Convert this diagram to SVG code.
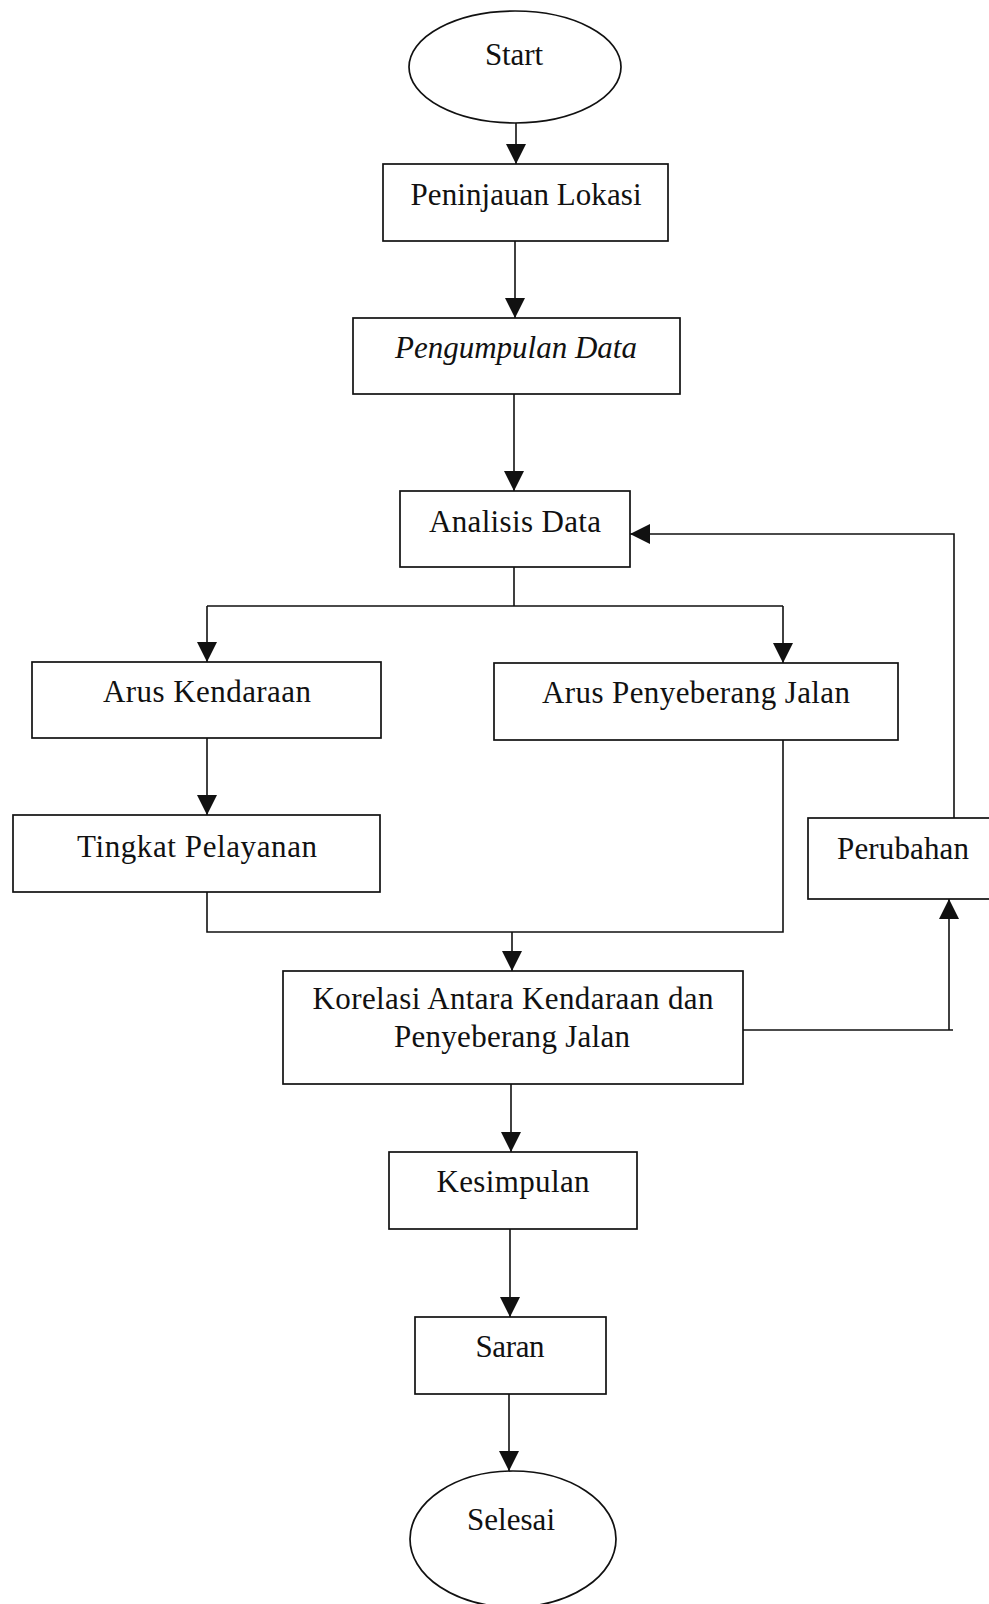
<svg xmlns="http://www.w3.org/2000/svg" width="989" height="1604" viewBox="0 0 989 1604">
<style>
.shape{fill:#fff;stroke:#111;stroke-width:1.7}
.lbl{font-family:"Liberation Serif","Times New Roman",serif;font-size:31px;fill:#111;text-anchor:middle}
.it{font-style:italic}
.conn{fill:none;stroke:#111;stroke-width:1.6}
</style>
<defs>
<marker id="arr" markerUnits="userSpaceOnUse" markerWidth="20" markerHeight="20" refX="20" refY="10" orient="auto">
<path d="M0,0 L20,10 L0,20 z" fill="#111"/>
</marker>
</defs>
<rect width="989" height="1604" fill="#fff"/>
<g id="connectors">
<path class="conn" d="M516,123 V164" marker-end="url(#arr)"/>
<path class="conn" d="M515,241 V318" marker-end="url(#arr)"/>
<path class="conn" d="M514,394 V491" marker-end="url(#arr)"/>
<path class="conn" d="M514,567 V606 M207,606 H783"/>
<path class="conn" d="M207,606 V662" marker-end="url(#arr)"/>
<path class="conn" d="M783,606 V663" marker-end="url(#arr)"/>
<path class="conn" d="M207,738 V815" marker-end="url(#arr)"/>
<path class="conn" d="M207,892 V932 H783 V740"/>
<path class="conn" d="M512,932 V971" marker-end="url(#arr)"/>
<path class="conn" d="M743,1030 H953"/>
<path class="conn" d="M949,1030 V899" marker-end="url(#arr)"/>
<path class="conn" d="M954,818 V534 H630" marker-end="url(#arr)"/>
<path class="conn" d="M511,1084 V1152" marker-end="url(#arr)"/>
<path class="conn" d="M510,1229 V1317" marker-end="url(#arr)"/>
<path class="conn" d="M509,1394 V1471" marker-end="url(#arr)"/>
</g>
<g id="start">
<ellipse class="shape" cx="515" cy="67" rx="106" ry="56"/>
<text class="lbl" x="514" y="65" textLength="58" lengthAdjust="spacing">Start</text>
</g>
<g id="peninjauan">
<rect class="shape" x="383" y="164" width="285" height="77"/>
<text class="lbl" x="526" y="205" textLength="231" lengthAdjust="spacing">Peninjauan Lokasi</text>
</g>
<g id="pengumpulan">
<rect class="shape" x="353" y="318" width="327" height="76"/>
<text class="lbl it" x="516" y="358" textLength="242" lengthAdjust="spacing">Pengumpulan Data</text>
</g>
<g id="analisis">
<rect class="shape" x="400" y="491" width="230" height="76"/>
<text class="lbl" x="515" y="532" textLength="172" lengthAdjust="spacing">Analisis Data</text>
</g>
<g id="arus-kendaraan">
<rect class="shape" x="32" y="662" width="349" height="76"/>
<text class="lbl" x="207" y="702" textLength="208" lengthAdjust="spacing">Arus Kendaraan</text>
</g>
<g id="arus-penyeberang">
<rect class="shape" x="494" y="663" width="404" height="77"/>
<text class="lbl" x="696" y="703" textLength="308" lengthAdjust="spacing">Arus Penyeberang Jalan</text>
</g>
<g id="tingkat">
<rect class="shape" x="13" y="815" width="367" height="77"/>
<text class="lbl" x="197" y="857" textLength="240" lengthAdjust="spacing">Tingkat Pelayanan</text>
</g>
<g id="perubahan">
<rect class="shape" x="808" y="818" width="200" height="81"/>
<text class="lbl" x="903" y="859" textLength="132" lengthAdjust="spacing">Perubahan</text>
</g>
<g id="korelasi">
<rect class="shape" x="283" y="971" width="460" height="113"/>
<text class="lbl" x="513" y="1009" textLength="401" lengthAdjust="spacing">Korelasi Antara Kendaraan dan</text>
<text class="lbl" x="512" y="1047" textLength="236" lengthAdjust="spacing">Penyeberang Jalan</text>
</g>
<g id="kesimpulan">
<rect class="shape" x="389" y="1152" width="248" height="77"/>
<text class="lbl" x="513" y="1192" textLength="153" lengthAdjust="spacing">Kesimpulan</text>
</g>
<g id="saran">
<rect class="shape" x="415" y="1317" width="191" height="77"/>
<text class="lbl" x="510" y="1357" textLength="69" lengthAdjust="spacing">Saran</text>
</g>
<g id="selesai">
<ellipse class="shape" cx="513" cy="1539" rx="103" ry="68"/>
<text class="lbl" x="511" y="1530" textLength="88" lengthAdjust="spacing">Selesai</text>
</g>
</svg>
